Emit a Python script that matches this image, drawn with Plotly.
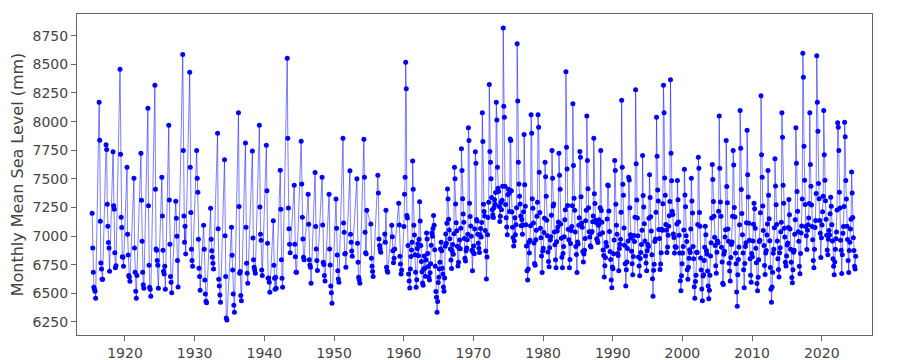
import plotly.graph_objects as go

# Early record: open-water season only, values listed from April onward (mm)
early_years = list(range(1915, 1960))
early_values = [
    [7199, 6896, 6684, 6553, 6535, 6518, 6456],
    [8170, 7838, 7130, 6765, 6713, 6622, 6622],
    [7797, 7756, 7278, 7086, 6943, 6896, 6692],
    [7736, 7266, 7234, 6855, 6724, 6740],
    [8458, 7715, 7165, 7074, 6820, 6815, 6736],
    [7602, 7016, 6835, 6655, 6643, 6605],
    [7505, 6896, 6684, 6518, 6456, 6655],
    [7724, 7313, 6955, 6684, 6576, 6544],
    [8117, 7266, 6745, 6553, 6535, 6474],
    [8318, 7409, 6888, 6876, 6786, 6745, 6544],
    [7514, 7176, 6876, 6692, 6669, 6736, 6535],
    [7969, 7316, 6928, 6646, 6596, 6506],
    [7304, 7156, 6998, 6786, 6555],
    [8587, 7747, 7176, 6946, 7086, 6844],
    [8432, 7602, 7205, 6885, 6786, 6736],
    [7747, 7505, 7383, 6972, 6719, 6646, 6526],
    [7094, 6885, 6617, 6494, 6430, 6418],
    [7243, 6972, 6873, 6815, 6762, 6713],
    [7899, 7065, 6622, 6564, 6486, 6421],
    [7666, 7004, 6646, 6285, 6267],
    [7077, 6832, 6704, 6494, 6395, 6334],
    [8077, 7258, 6675, 6690, 6480, 6436],
    [7814, 7077, 6762, 6675, 6588],
    [7744, 6984, 6794, 6727, 6704, 6675],
    [7969, 7255, 7016, 6963, 6704, 6655],
    [7794, 7395, 6937, 6631, 6634, 6596, 6509],
    [7135, 6745, 6631, 6535, 6640, 6544],
    [7575, 7234, 6794, 6631, 6553],
    [8554, 7855, 7246, 7065, 6928, 6855],
    [7444, 6928, 6820, 6684, 6684],
    [7829, 7456, 7165, 6975, 6815, 6794],
    [7366, 7103, 6794, 6748, 6727, 6588],
    [7555, 7083, 6888, 6786, 6700],
    [7514, 7097, 6771, 6751, 6655, 6608],
    [7366, 6888, 6748, 6564, 6506, 6413],
    [7325, 7068, 6835, 6698, 6625, 6596],
    [7855, 7115, 7033, 6844, 6847, 6727],
    [7570, 7016, 6946, 6870, 6823],
    [7500, 6937, 6771, 6640, 6619, 6588],
    [7846, 7514, 7033, 6855, 6844, 7226],
    [7106, 6806, 6736, 6690, 6646],
    [7532, 7377, 6975, 6917, 6888, 6858],
    [7019, 6946, 7226, 6727, 6698, 6684],
    [7094, 6995, 6873, 6768, 6806, 6888],
    [7287, 7097, 6823, 6757, 6669, 6704],
]

# Year-round record: values listed from January onward (mm)
late_years = list(range(1960, 2025))
late_values = [
    [7083, 7366, 7514, 8519, 8286, 7179, 7159, 6917, 6669, 6608, 6547, 6712],
    [6821, 6878, 6947, 7657, 7409, 7094, 7010, 6838, 6684, 6553, 6618, 6891],
    [6934, 6829, 6972, 7299, 7131, 6917, 6779, 6688, 6591, 6571, 6712, 6826],
    [6718, 6649, 6791, 7027, 6975, 6849, 6734, 6641, 6617, 6679, 6758, 6921],
    [7028, 6998, 7066, 7179, 7094, 6881, 6736, 6517, 6465, 6334, 6428, 6594],
    [6641, 6712, 6771, 6888, 6947, 6872, 6718, 6669, 6556, 6518, 6633, 6911],
    [7019, 6938, 7112, 7412, 7325, 7147, 7054, 6977, 6888, 6791, 6716, 6869],
    [6927, 6842, 7021, 7602, 7500, 7281, 7117, 7046, 6912, 6738, 6771, 6894],
    [6965, 6889, 7068, 7762, 7573, 7326, 7193, 7121, 6979, 6806, 6782, 6871],
    [6896, 6968, 7017, 7946, 7835, 7287, 7172, 7088, 6998, 6876, 6698, 6862],
    [6913, 6845, 7061, 7736, 7637, 7146, 7131, 7017, 6938, 6894, 6857, 7012],
    [7066, 6993, 7118, 8077, 7826, 7279, 7214, 7176, 7048, 6869, 6625, 6817],
    [7011, 7162, 7296, 8324, 7739, 7645, 7500, 7337, 7231, 7186, 7163, 7247],
    [7318, 7279, 7381, 8170, 8015, 7602, 7417, 7389, 7258, 7127, 7174, 7296],
    [7231, 7312, 7436, 8817, 8135, 8039, 7436, 7276, 7161, 7079, 7011, 7362],
    [7409, 7374, 7214, 7849, 7835, 7396, 7211, 7077, 6987, 6914, 6958, 7161],
    [7012, 7098, 7248, 8680, 8179, 7645, 7456, 7347, 7281, 7176, 7091, 7146],
    [7017, 7096, 7213, 7887, 7448, 7261, 7098, 6913, 6697, 6617, 6712, 6946],
    [6853, 6964, 7091, 8059, 7899, 7326, 7243, 7115, 6939, 6761, 6745, 6967],
    [7052, 7174, 7295, 8059, 7951, 7558, 7207, 7068, 6985, 6826, 6683, 6869],
    [6893, 7031, 7155, 7645, 7518, 7349, 7139, 7004, 6861, 6779, 6732, 6898],
    [6966, 6994, 7183, 7747, 7505, 7262, 7281, 7035, 6924, 6793, 6723, 6951],
    [7045, 7079, 7124, 7724, 7532, 7409, 7106, 6981, 6815, 6723, 6848, 6909],
    [6994, 7143, 7231, 8435, 7776, 7587, 7267, 7059, 6967, 6723, 6795, 6936],
    [7049, 7084, 7266, 8155, 7616, 7331, 7225, 7036, 6909, 6840, 6683, 6948],
    [6931, 7095, 7161, 7739, 7689, 7344, 7114, 7078, 6866, 6774, 6843, 6877],
    [6979, 7134, 7225, 8048, 7660, 7413, 7248, 7039, 6993, 6916, 6905, 7031],
    [7041, 7126, 7176, 7855, 7369, 7284, 7139, 7118, 6976, 6965, 6943, 7094],
    [7143, 7013, 7248, 7747, 7223, 7121, 7029, 6879, 6831, 6643, 6742, 6814],
    [6945, 6911, 7149, 7447, 7440, 7219, 7041, 6865, 6796, 6616, 6548, 6731],
    [6714, 6845, 6966, 7660, 7573, 7279, 7094, 7016, 6849, 6831, 6697, 6891],
    [6928, 6973, 7208, 8187, 7602, 7452, 7357, 7071, 6919, 6758, 6563, 6706],
    [6774, 6891, 6958, 7514, 7490, 7247, 7012, 6984, 6868, 6759, 6663, 6822],
    [7006, 6952, 7164, 8278, 7631, 7316, 7158, 7003, 6817, 6738, 6653, 6805],
    [6856, 6927, 7052, 7704, 7354, 7254, 7107, 6957, 6826, 6766, 6697, 6872],
    [6927, 6908, 7156, 7535, 7338, 7169, 7044, 6836, 6627, 6474, 6702, 6753],
    [6952, 6974, 7209, 8039, 7697, 7403, 7306, 7058, 6978, 6709, 6756, 6854],
    [7059, 7052, 7282, 8318, 8077, 7508, 7356, 7102, 7052, 6857, 6904, 7007],
    [7086, 7178, 7303, 8365, 7724, 7484, 7217, 7188, 7019, 6988, 6852, 6907],
    [6904, 6903, 7106, 7485, 7317, 7124, 7008, 6852, 6609, 6523, 6654, 6758],
    [6852, 6908, 7054, 7584, 7358, 7256, 7004, 6952, 6707, 6623, 6728, 6807],
    [6881, 6857, 7062, 7505, 7306, 7202, 6908, 6803, 6557, 6456, 6603, 6658],
    [6858, 6856, 7102, 7689, 7593, 7207, 7086, 6808, 6703, 6538, 6436, 6652],
    [6662, 6787, 6903, 7086, 7011, 6874, 6843, 6695, 6564, 6453, 6527, 6659],
    [6826, 6941, 7158, 7625, 7494, 7302, 7174, 6989, 6917, 6741, 6676, 6858],
    [6958, 6942, 7216, 8048, 7593, 7297, 7173, 6902, 6774, 6589, 6577, 6841],
    [6867, 6993, 7056, 7835, 7433, 7292, 7063, 6956, 6762, 6694, 6607, 6813],
    [6926, 6948, 7173, 7747, 7622, 7249, 7166, 6852, 6758, 6512, 6387, 6662],
    [6796, 6904, 7099, 8097, 7768, 7406, 7198, 7011, 6853, 6707, 6549, 6761],
    [6908, 6941, 7117, 7925, 7535, 7341, 7112, 6964, 6803, 6658, 6596, 6847],
    [6819, 6957, 7103, 7287, 7238, 7068, 6893, 6768, 6585, 6523, 6641, 6793],
    [6952, 6963, 7204, 8225, 7710, 7514, 7263, 7048, 6917, 6744, 6664, 6852],
    [6874, 7009, 7106, 7573, 7356, 7152, 6959, 6726, 6535, 6421, 6556, 6684],
    [6851, 6886, 7072, 7675, 7437, 7273, 7102, 6958, 6802, 6709, 6643, 6854],
    [6898, 7038, 7121, 8077, 7864, 7444, 7287, 7068, 6991, 6772, 6738, 6826],
    [6922, 6939, 7074, 7319, 7186, 7063, 6884, 6771, 6639, 6593, 6706, 6859],
    [6877, 7016, 7143, 7946, 7637, 7389, 7217, 7037, 6954, 6736, 6672, 6849],
    [7026, 7089, 7323, 8598, 8388, 7785, 7488, 7276, 7084, 7003, 6883, 7052],
    [7098, 7159, 7284, 8077, 7625, 7436, 7271, 7083, 6969, 6787, 6724, 6884],
    [7074, 7136, 7372, 8575, 8170, 7916, 7459, 7327, 7136, 7024, 6812, 6986],
    [7096, 7213, 7349, 8097, 7710, 7487, 7309, 7148, 7008, 6879, 6836, 6973],
    [7048, 7009, 7196, 7339, 7261, 7099, 6957, 6803, 6736, 6663, 6774, 6886],
    [6976, 7036, 7228, 7989, 7951, 7747, 7384, 7246, 6963, 6876, 6673, 6838],
    [7024, 7083, 7259, 7995, 7867, 7486, 7324, 7087, 6971, 6786, 6683, 6874],
    [6947, 7061, 7148, 7560, 7377, 7163, 6986, 6874, 6737, 6712, 6823],
]

x_tick_labels = ["1920", "1930", "1940", "1950", "1960", "1970", "1980", "1990", "2000", "2010", "2020"]
y_tick_values = [6250, 6500, 6750, 7000, 7250, 7500, 7750, 8000, 8250, 8500, 8750]

dates, levels = [], []
for yr, vals in zip(early_years, early_values):
    for i, v in enumerate(vals):
        dates.append(f"{yr}-{4 + i:02d}-15")
        levels.append(v)
for yr, vals in zip(late_years, late_values):
    for i, v in enumerate(vals):
        dates.append(f"{yr}-{1 + i:02d}-15")
        levels.append(v)

fig = go.Figure(go.Scatter(
    x=dates, y=levels, mode="lines+markers",
    line=dict(color="rgba(0,0,255,0.5)", width=1),
    marker=dict(color="#0000ff", size=5),
))

axis_common = dict(
    showgrid=False, zeroline=False, showline=True, mirror=True,
    linecolor="#666", linewidth=1, ticks="outside", ticklen=5,
    tickcolor="#666", tickfont=dict(family="DejaVu Sans", size=14, color="#444"),
)
fig.update_xaxes(
    type="date", range=["1913-02-10", "2027-03-20"],
    tickvals=[f"{t}-01-01" for t in x_tick_labels], ticktext=x_tick_labels,
    **axis_common,
)
fig.update_yaxes(
    range=[6136, 8940], tickvals=y_tick_values, ticktext=[str(v) for v in y_tick_values],
    title=dict(text="Monthly Mean Sea Level (mm)", font=dict(family="DejaVu Sans", size=16, color="#444"), standoff=8),
    **axis_common,
)
fig.update_layout(
    width=892, height=352, showlegend=False,
    paper_bgcolor="white", plot_bgcolor="white",
    margin=dict(l=69, r=28, t=6, b=25, autoexpand=False),
    font=dict(family="DejaVu Sans", color="#444"),
)
fig.write_html("out.html")
